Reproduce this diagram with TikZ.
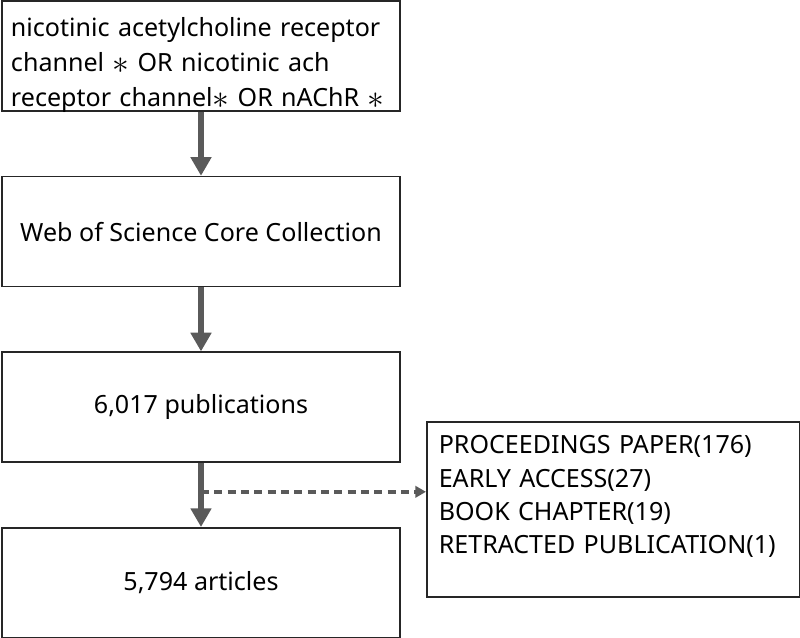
\documentclass[tikz,border=0pt]{standalone}
\usepackage{fontspec}
\usepackage{graphicx}
\setmainfont{Noto Sans}
\usetikzlibrary{arrows.meta, positioning}
\definecolor{flowgray}{HTML}{5A5A5A}
\newcommand{\wildcard}{\raisebox{-1.5pt}{\scalebox{1.45}{$\ast$}}}

\begin{document}
\begin{tikzpicture}[>={Triangle[length=14pt,width=15pt]}, node distance=48pt,
  font=\fontsize{18.8}{25}\selectfont]
\tikzstyle{box}=[draw=black!85, line width=1.2pt, minimum width=298.5pt, minimum height=82.5pt]
\tikzstyle{flow}=[->, flowgray, line width=4.5pt]
\tikzstyle{excl}=[-{Triangle[length=8pt,width=8.5pt]}, flowgray, line width=3pt, dash pattern=on 6pt off 4pt]

\useasboundingbox (0,0) rectangle (600pt,-477.75pt);

\node[box, align=left, text width=285pt, inner xsep=6.75pt, inner ysep=6pt,
  font=\fontsize{18.8}{26}\selectfont, text height=20pt, text depth=49pt] (query) at (150.75pt,-42pt)
  {nicotinic acetylcholine receptor\\channel \wildcard{} OR nicotinic ach\\receptor channel\wildcard{} OR nAChR \wildcard};
\node[box] (wos) [below=of query] {Web of Science Core Collection};
\node[box] (pubs) [below=of wos] {6,017 publications};
\node[box] (arts) [below=of pubs] {5,794 articles};

\node[draw=black!85, line width=1.2pt, anchor=north west, align=left, text width=261.75pt,
  inner xsep=9pt, inner ysep=10pt, text height=14pt, text depth=97.25pt] (types) at (319.5pt,-315.75pt)
  {PROCEEDINGS PAPER(176)\\EARLY ACCESS(27)\\BOOK CHAPTER(19)\\RETRACTED PUBLICATION(1)};

\path (pubs.south) -- (arts.north) coordinate[pos=0.45] (split);

\draw[flow] (query) -- (wos);
\draw[flow] (wos) -- (pubs);
\draw[flow] (pubs) -- (arts);
\draw[excl] (split) -- (split -| types.west);
\end{tikzpicture}
\end{document}
